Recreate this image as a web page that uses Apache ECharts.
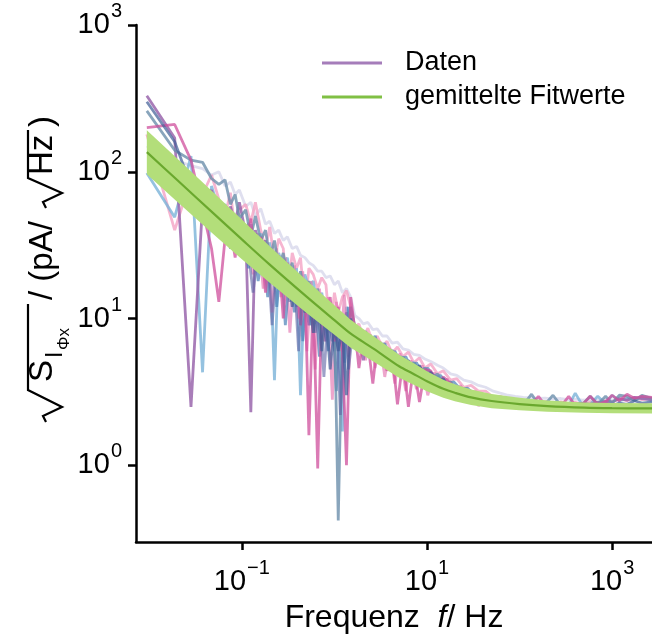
<!DOCTYPE html>
<html>
<head>
<meta charset="utf-8">
<script src="https://cdn.jsdelivr.net/npm/echarts@6/dist/echarts.min.js"></script>
<style>
html,body{margin:0;padding:0;background:#fff;}
#c{width:652px;height:637px;}
</style>
</head>
<body>
<div id="c"></div>
<script>
// ---- data ----
const freq = [0.0094,0.0188,0.0282,0.0376,0.047,0.0564,0.0658,0.0752,0.0846,0.094,
  0.11,0.125,0.14,0.16,0.18,0.2,0.225,0.25,0.28,0.31,
  0.35,0.39,0.43,0.48,0.53,0.59,0.66,0.73,0.81,0.9,
  1.0,1.1,1.22,1.35,1.5,1.66,1.84,2.05,2.3,2.6,
  2.9,3.3,3.7,4.2,4.8,5.5,6.3,7.2,8.3,9.5,
  11,13,15,18,21,25,30,36,43,52,
  62,75,90,110,135,160,190,230,280,340,
  400,480,580,700,850,1000,1200,1450,1750,2100,2700];

const tracePurple = [330,170,2.5,60,75,52,40,58,45,62,
  38,2.3,40,30,34,25,28,18,24,16,
  22,12,19,15,9,16,11,13,7,12,
  6,10,8,11,9,6.5,7.8,5.2,7.2,6.4,
  6.8,5.5,6.2,5.0,5.6,4.8,5.0,4.6,4.7,4.2,
  4.3,3.9,3.8,3.4,3.4,3.2,3.1,2.95,2.9,2.8,
  2.75,2.7,2.65,2.62,2.65,2.6,2.62,2.58,2.65,2.6,
  2.62,2.65,2.6,2.68,2.72,2.7,2.85,2.78,2.9,2.85,2.8];

const traceMagenta = [200,210,120,55,30,13,35,42,26,46,
  30,48,22,36,15,30,20,27,10,24,
  15,20,9,17,1.6,14,0.95,12,9,14,
  7,12,6,1.0,14,8.5,4.6,7.5,6.8,3.6,
  6.6,6.2,4.4,5.8,2.6,5.2,2.5,4.8,2.7,4.5,
  4.4,3.3,4.0,3.6,2.8,3.3,3.2,2.55,2.95,2.85,
  2.7,2.6,2.55,2.55,2.6,2.95,2.55,2.58,2.52,2.95,
  2.55,2.6,2.95,2.6,2.7,3.0,2.75,3.05,2.85,2.95,2.9];

const traceLightPink = [180,40,90,70,95,65,50,72,40,55,
  60,45,62,40,30,42,25,35,30,14,
  28,22,26,12,22,20,16,19,17,8,
  15,11,14,15.5,12,8.6,9.2,7.4,8.6,6.8,
  7.6,6.4,7.0,5.8,6.4,5.5,5.9,5.0,5.4,4.6,
  4.9,4.2,4.4,3.8,3.9,3.4,3.5,3.2,3.2,2.9,
  2.95,2.75,2.8,2.65,2.75,2.62,2.72,2.6,2.7,2.62,
  2.68,2.6,2.7,2.65,2.75,2.68,2.85,2.75,2.9,2.8,2.85];

const traceLightBlue = [98,49,128,4.3,80,55,60,38,50,42,
  30,44,26,38,20,33,3.8,28,22,26,
  16,22,3.0,20,16,18,12,15,10,13,
  6.5,11,1.7,12,9,7.8,8.4,6.4,7.8,5.3,
  6.9,6.5,5.8,4.7,5.6,5.4,4.9,5.0,4.5,4.6,
  4.2,4.0,3.8,3.4,3.3,3.1,3.0,2.9,2.8,2.75,
  2.65,2.6,2.55,2.55,2.58,2.55,2.6,2.52,2.58,2.55,
  3.1,2.55,2.6,2.95,2.62,3.0,2.75,2.85,2.8,2.9,2.75];

const traceSteel = [260,140,120,116,90,82,88,60,70,48,
  55,36,50,34,40,26,34,22,28,19,
  24,15,21,14,18,11,16,9.5,13,8,
  11,0.42,10,8,12,8.8,6.9,8.2,6.2,7.4,
  5.9,6.8,5.3,6.1,4.9,5.5,4.6,5.0,4.2,4.6,
  3.9,4.2,3.5,3.7,3.2,3.3,2.95,3.0,2.8,2.85,
  2.68,2.72,2.6,2.58,3.05,2.6,2.62,3.0,2.55,2.6,
  2.55,2.6,2.95,2.6,2.95,2.65,3.0,2.95,2.75,3.0,2.85];

const traceNavy = [300,160,80,70,65,38,55,30,48,35,
  42,30,38,24,30,18,27,20,16,22,
  12,18,14,11,15,8,13,6,11,4.5,
  9,6,8.5,3,10,7.2,8.0,6.2,7.4,5.6,
  6.8,5.4,6.2,4.8,5.6,4.5,5.2,4.2,4.8,3.9,
  4.3,3.6,3.9,3.2,3.4,3.0,3.1,2.8,2.9,2.65,
  2.75,2.6,2.62,2.55,2.6,2.52,2.58,2.5,2.56,2.52,
  2.55,2.52,2.56,2.5,2.6,2.55,2.65,2.6,2.75,2.65,2.7];

const traceLavender = [150,120,110,105,95,100,80,85,70,75,
  58,62,50,56,44,46,38,40,34,36,
  30,31,27,26,24,23,21,21,19,19.5,
  17,18,15,16,14,10.5,10,9.2,9.4,8.4,
  8.5,7.6,7.6,6.8,6.9,6.2,6.1,5.7,5.6,5.3,
  5.1,4.8,4.6,4.2,4.1,3.8,3.7,3.5,3.4,3.2,
  3.1,3.0,2.95,2.9,2.88,2.85,2.87,2.82,2.85,2.8,
  2.82,2.78,2.8,2.78,2.8,2.78,2.85,2.8,2.9,2.85,2.8];

// finer-resolved records over the middle frequency range
const freqDense = [0.105,0.118,0.132,0.15,0.17,0.19,0.212,0.238,0.265,0.295,
  0.33,0.37,0.41,0.455,0.505,0.56,0.62,0.69,0.77,0.855,
  0.95,1.05,1.16,1.28,1.42,1.58,1.75,1.95,2.17,2.45,
  2.75,3.1,3.5,3.95,4.5,5.1,5.9,6.7,7.7,8.9,
  10.2,12,14,16.5,19.5,23,27.5,33,40];

const traceBlueDense = [40,22,36,18,30,14,28,12,24,9,
  22,11,19,7,17,9,15,5.5,13,6,
  12,3.2,11,5,12,7.8,8.8,6.8,8.2,6.6,
  7.6,5.9,6.8,5.4,6.0,5.0,5.5,4.6,5.0,4.2,
  4.6,3.9,4.1,3.6,3.7,3.3,3.35,3.0,3.0];

const tracePinkDense = [28,45,20,38,16,33,11,30,14,26,
  8,23,10,21,6,18,4.5,16,7,14,
  2.8,13,6,14.5,5.5,9.2,6.0,8.4,5.2,7.8,
  4.6,7.0,4.0,6.3,3.6,5.8,3.2,5.2,3.3,4.8,
  3.0,4.3,3.0,3.9,2.9,3.5,2.8,3.2,2.75];

const traceIndigoDense = [34,28,15,30,22,27,9,24,17,21,
  13,19,6,17,11,15,8,13,4,11,
  7,10,2.2,9,4.5,8.2,7.0,7.6,6.1,7.0,
  5.6,6.4,5.0,5.8,4.6,5.2,4.3,4.8,3.9,4.4,
  3.6,4.0,3.3,3.6,3.05,3.3,2.9,3.05,2.85];

const fitFreq   = [0.0094,0.02,0.05,0.1,0.2,0.5,1,1.5,2,3,5,7,10,15,20,30,50,100,200,500,1000,2700];
const fitCenter = [136,87.8,51.6,34.6,23.3,14.1,9.75,7.88,6.98,5.9,4.73,4.22,3.74,3.32,3.12,2.9,2.74,2.61,2.53,2.47,2.45,2.44];
const fitUpper  = [192,123,71.6,47.2,31.1,18.2,12.3,9.8,8.59,7.17,5.66,5.02,4.37,3.82,3.56,3.28,3.06,2.88,2.76,2.68,2.66,2.65];
const fitLower  = [96,62.4,37.2,25.3,17.5,10.9,7.74,6.33,5.67,4.85,3.95,3.56,3.2,2.88,2.73,2.57,2.45,2.37,2.32,2.28,2.26,2.25];

const xTicks = [0.1, 10, 1000];
const yTicks = [1, 10, 100, 1000];
const legendNames = ['Daten', 'gemittelte Fitwerte'];

// ---- chart ----
const FONT = 'Liberation Sans, Arial, sans-serif';
const chart = echarts.init(document.getElementById('c'), null, {renderer: 'canvas'});

function pairs(xs, ys) { return xs.map((x, i) => [x, ys[i]]); }
function expLabel(v) {
  const e = Math.round(Math.log10(v));
  return '{b|10}{s|' + (e < 0 ? '\u2212' + (-e) : String(e)) + '}';
}
const labelRich = {
  b: {fontSize: 29, fontFamily: FONT, color: '#000'},
  s: {fontSize: 20, fontFamily: FONT, color: '#000', padding: [0, 0, 27, 1]}
};

const traces = [
  {name: 'lav', x: freq, data: traceLavender, color: '#d9d9ec', op: 0.85},
  {name: 'lpink', x: freq, data: traceLightPink, color: '#f4a3c4', op: 0.8},
  {name: 'lblue', x: freq, data: traceLightBlue, color: '#7ab3d8', op: 0.8},
  {name: 'pinkD', x: freqDense, data: tracePinkDense, color: '#e477b0', op: 0.65},
  {name: 'Daten', x: freq, data: tracePurple, color: '#9a66ad', op: 0.85},
  {name: 'blueD', x: freqDense, data: traceBlueDense, color: '#4a80b6', op: 0.7},
  {name: 'steel', x: freq, data: traceSteel, color: '#6b8eab', op: 0.8},
  {name: 'mag', x: freq, data: traceMagenta, color: '#cf4f9c', op: 0.75},
  {name: 'indD', x: freqDense, data: traceIndigoDense, color: '#5b63a3', op: 0.6},
  {name: 'navy', x: freq, data: traceNavy, color: '#3f5c95', op: 0.7}
];

const series = traces.map(t => ({
  name: t.name, type: 'line', data: pairs(t.x, t.data),
  showSymbol: false, symbol: 'none', silent: true,
  lineStyle: {color: t.color, width: 2.8, opacity: t.op},
  itemStyle: {color: t.color}, z: 2
}));

series.push({
  name: 'band', type: 'custom', silent: true, z: 3,
  data: [[fitFreq[0], fitCenter[0]]],
  renderItem: function (params, api) {
    const pts = [];
    for (let i = 0; i < fitFreq.length; i++) pts.push(api.coord([fitFreq[i], fitUpper[i]]));
    for (let i = fitFreq.length - 1; i >= 0; i--) pts.push(api.coord([fitFreq[i], fitLower[i]]));
    return {type: 'polygon', shape: {points: pts}, style: {fill: '#b3de7a', stroke: null}};
  }
});
series.push({
  name: 'gemittelte Fitwerte', type: 'line', data: pairs(fitFreq, fitCenter),
  showSymbol: false, symbol: 'none', silent: true, smooth: 0.3, z: 4,
  lineStyle: {color: '#6aa82e', width: 2.2}, itemStyle: {color: '#6aa82e'}
});

const T = '33px ' + FONT;
const option = {
  animation: false,
  backgroundColor: '#fff',
  grid: {left: 136, right: 0, top: 25, bottom: 95, containLabel: false, outerBoundsMode: 'none'},
  legend: {
    orient: 'vertical', left: 322, top: 46, padding: 0, itemWidth: 60, itemHeight: 3, itemGap: 0,
    icon: 'rect',
    data: [
      {name: legendNames[0], itemStyle: {color: '#a57dba', opacity: 1}},
      {name: legendNames[1], itemStyle: {color: '#80c044', opacity: 1}}
    ],
    textStyle: {fontSize: 27, fontFamily: FONT, color: '#000', padding: [0, 0, 0, 18], lineHeight: 34},
    selectedMode: false
  },
  xAxis: {
    type: 'log', logBase: 10, min: 0.00718, max: 2700,
    axisLine: {show: true, lineStyle: {color: '#000', width: 2.5}},
    axisTick: {show: true, length: 8, inside: false, lineStyle: {color: '#000', width: 2.5}, customValues: xTicks},
    axisLabel: {customValues: xTicks, formatter: expLabel, rich: labelRich, margin: 16},
    minorTick: {show: false}, splitLine: {show: false},
    name: 'Frequenz  {i|f}/ Hz', nameLocation: 'middle', nameGap: 60,
    nameTextStyle: {fontSize: 32, fontFamily: FONT, color: '#000',
      rich: {i: {fontSize: 32, fontFamily: FONT, fontStyle: 'italic', color: '#000'}}}
  },
  yAxis: {
    type: 'log', logBase: 10, min: 0.3, max: 1000,
    axisLine: {show: true, lineStyle: {color: '#000', width: 2.5}},
    axisTick: {show: true, length: 8, inside: false, lineStyle: {color: '#000', width: 2.5}, customValues: yTicks},
    axisLabel: {customValues: yTicks, formatter: expLabel, rich: labelRich, margin: 14},
    minorTick: {show: false}, splitLine: {show: false}
  },
  graphic: [{
    type: 'group', x: 59, y: 422, rotation: Math.PI / 2, silent: true,
    children: [
      {type: 'polyline', shape: {points: [[0, -13], [6, -16], [15, 3], [32, -31], [118, -31]]},
        style: {stroke: '#000', lineWidth: 2.2, fill: null}},
      {type: 'text', x: 40, y: 0, style: {text: 'S', font: T, fill: '#000', textVerticalAlign: 'bottom'}},
      {type: 'text', x: 64, y: 8, style: {text: 'I', font: '23px ' + FONT, fill: '#000', textVerticalAlign: 'bottom'}},
      {type: 'text', x: 72, y: 14, style: {text: '\u03A6x', font: '17px ' + FONT, fill: '#000', textVerticalAlign: 'bottom'}},
      {type: 'text', x: 122, y: 0, style: {text: '/ (pA/', font: T, fill: '#000', textVerticalAlign: 'bottom'}},
      {type: 'polyline', shape: {points: [[214, -13], [220, -16], [229, 3], [244, -31], [292, -31]]},
        style: {stroke: '#000', lineWidth: 2.2, fill: null}},
      {type: 'text', x: 247, y: 0, style: {text: 'Hz', font: T, fill: '#000', textVerticalAlign: 'bottom'}},
      {type: 'text', x: 295, y: 0, style: {text: ')', font: T, fill: '#000', textVerticalAlign: 'bottom'}}
    ]
  }],
  series: series
};
chart.setOption(option);
</script>
</body>
</html>
